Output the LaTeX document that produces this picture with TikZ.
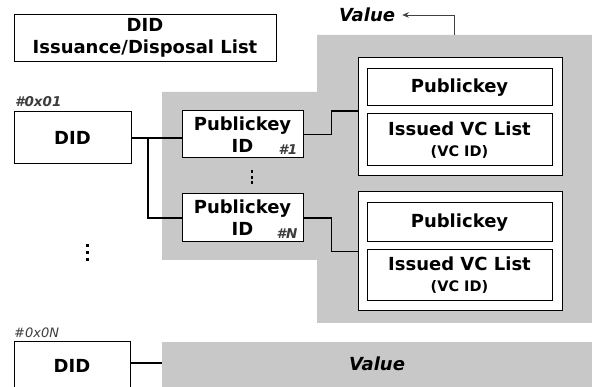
\documentclass[tikz,border=0pt]{standalone}
\usepackage{fontspec}
\setmainfont{DejaVu Sans}
\usetikzlibrary{arrows.meta}
\definecolor{valgray}{HTML}{C8C8C8}
\definecolor{tagdark}{HTML}{3C3C3C}
\begin{document}
\begin{tikzpicture}[x=1pt,y=-1pt,
  box/.style={draw, line width=1pt, fill=white, inner sep=0pt, align=center,
    font=\bfseries\fontsize{18}{22}\selectfont},
  tag/.style={inner sep=0pt, text=tagdark, font=\bfseries\itshape\fontsize{13.5}{13.5}\selectfont},
  valtxt/.style={inner sep=0pt, font=\bfseries\itshape\fontsize{18}{18}\selectfont},
  wire/.style={line width=1.3pt}]
\useasboundingbox (0,0) rectangle (592,387);

% Gray value areas
\fill[valgray] (162,92) -- (317,92) -- (317,35) -- (592,35) -- (592,323) -- (317,323) -- (317,260) -- (162,260) -- cycle;
\node[fill=valgray, inner sep=0pt, minimum width=430pt, minimum height=50pt, anchor=north west] (bar) at (162,342) {};
\node[valtxt] (val2) at (377,364) {Value};

% Title box
\node[box, minimum width=262pt, minimum height=47pt] (title) at (145,38) {DID\\Issuance/Disposal List};

% First DID and its publickey IDs
\node[tag, anchor=south west] (hash1) at (15,107) {\#0x01};
\node[box, minimum width=117pt, minimum height=52pt] (did1) at (72.5,138) {DID};
\node[box, minimum width=121pt, minimum height=47pt] (pk1) at (242.5,134.5) {Publickey\\ID};
\node[tag, anchor=south east] (n1) at ([xshift=-6pt,yshift=4pt]pk1.south east) {\#1};
\node[box, minimum width=121pt, minimum height=48pt] (pkN) at (242.5,218) {Publickey\\ID};
\node[tag, anchor=south east] (nN) at ([xshift=-6pt,yshift=4pt]pkN.south east) {\#N};

% Dots
\foreach \dy in {0,5.5,11}
  \fill (250.7,170.5+\dy) rectangle +(2.6,2.6);
\foreach \dy in {0,7,14}
  \fill (85.7,244+\dy) rectangle +(2.8,2.8);

% Values of the publickey IDs
\node[box, minimum width=204pt, minimum height=118pt] (vc1) at (460,117) {};
\node[box, minimum width=185pt, minimum height=37pt] (key1) at (459.5,87.5) {Publickey};
\node[box, minimum width=185pt, minimum height=52pt] (list1) at (459.5,140) {Issued VC List\\[-1pt]{\fontsize{14.5}{16}\selectfont(VC ID)}};
\node[box, minimum width=204pt, minimum height=119pt] (vc2) at (460,251.5) {};
\node[box, minimum width=185pt, minimum height=39pt] (key2) at (459.5,222.5) {Publickey};
\node[box, minimum width=185pt, minimum height=51pt] (list2) at (459.5,275.5) {Issued VC List\\[-1pt]{\fontsize{14.5}{16}\selectfont(VC ID)}};

% Last DID
\node[tag, anchor=south west, font=\itshape\fontsize{13}{13}\selectfont] (hashN) at (14,338) {\#0x0N};
\node[box, minimum width=116pt, minimum height=52pt, anchor=north] (did2) at (72,341) {\raisebox{4pt}{DID}};

% Connectors
\coordinate (fork) at (148,137);
\draw[wire] (did1.east) -- (did1.east -| pk1.west);
\draw[wire] (fork) |- (pkN.west);
\draw[wire] (pk1.east) -- ++(28,0) |- ([yshift=6pt]vc1.west);
\draw[wire] (pkN.east) -- ++(28,0) |- (vc2.west);
\draw[wire] (did2.east |- 0,363) -- (bar.west |- 0,363);

% Arrow to the value label
\node[valtxt, anchor=west] (val1) at (339,15) {Value};
\coordinate (valtop) at (454,35);
\draw[line width=0.6pt, black!75, -{Stealth[length=6.5pt,width=5.5pt]}] (valtop) |- ([xshift=7pt]val1.east);
\end{tikzpicture}
\end{document}
